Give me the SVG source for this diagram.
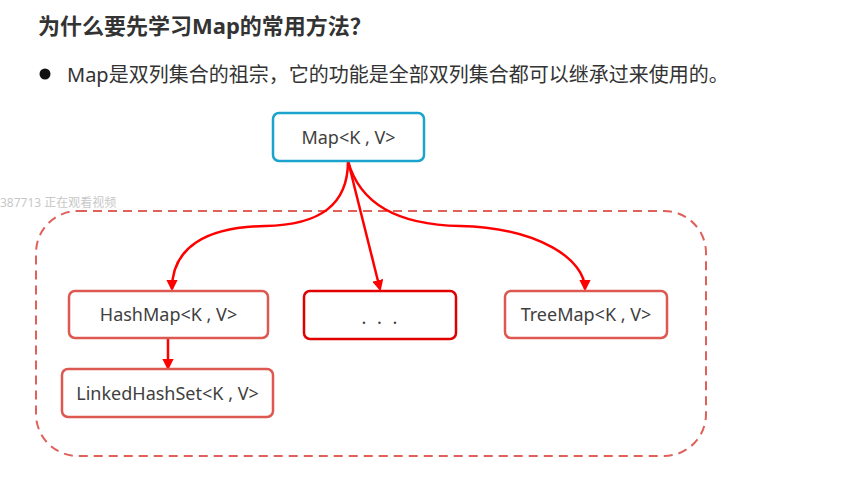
<svg xmlns="http://www.w3.org/2000/svg" width="861" height="479" viewBox="0 0 861 479">
<style>
.t{font-family:"Noto Sans","Noto Sans CJK SC",sans-serif;fill:#333}
.box{fill:#fff;stroke-width:2.5}
.red{stroke:#DD5850}
.lbl{font-family:"Noto Sans","Noto Sans CJK SC",sans-serif;font-size:18px;fill:#404040;text-anchor:middle;dominant-baseline:central}
.arr{fill:none;stroke:#FF0000;stroke-width:2.5;marker-end:url(#ah)}
</style>
<defs>
<marker id="ah" viewBox="0 0 10 10" refX="8" refY="5" markerWidth="4.5" markerHeight="4.5" orient="auto" markerUnits="strokeWidth">
<path d="M0,0 L10,5 L0,10 z" fill="#FF0000"/>
</marker>
</defs>
<rect width="861" height="479" fill="#fff"/>
<text class="t" x="38" y="34" font-size="22" font-weight="bold" fill="#333">为什么要先学习Map的常用方法？</text>
<circle cx="45" cy="74" r="5.5" fill="#111"/>
<text class="t" x="67" y="82" font-size="20" fill="#222">Map是双列集合的祖宗，它的功能是全部双列集合都可以继承过来使用的。</text>
<text x="0" y="207" font-family="Noto Sans, Noto Sans CJK SC, sans-serif" font-size="12" fill="#c8c8c8">387713 正在观看视频</text>
<rect x="36" y="211" width="670" height="245" rx="42" fill="none" stroke="#E0605A" stroke-width="2" stroke-dasharray="9 6"/>
<g id="connectors">
<path class="arr" d="M348,161 C348,205 320,225 265,226 C205,227 172,248 172,289"/>
<path class="arr" d="M348,161 L380,289"/>
<path class="arr" d="M348,161 C360,205 400,225 460,226 C540,228 585,260 585,289"/>
<path class="arr" d="M168,338 L168,368"/>
</g>
<g id="map">
<rect class="box" x="273" y="113" width="151" height="48" rx="6" stroke="#1AA3CC"/>
<text class="lbl" x="348.5" y="137">Map&lt;K , V&gt;</text>
</g>
<g id="hashmap">
<rect class="box red" x="69" y="291" width="199" height="47" rx="6"/>
<text class="lbl" x="168.5" y="314">HashMap&lt;K , V&gt;</text>
</g>
<g id="dots">
<rect class="box" x="304" y="291" width="152" height="48" rx="6" stroke="#E00000"/>
<text class="lbl" x="381" y="317" letter-spacing="3">. . .</text>
</g>
<g id="treemap">
<rect class="box red" x="505" y="291" width="162" height="47" rx="6"/>
<text class="lbl" x="586" y="314">TreeMap&lt;K , V&gt;</text>
</g>
<g id="linkedhashset">
<rect class="box red" x="62" y="369" width="211" height="48" rx="6"/>
<text class="lbl" x="167.5" y="393">LinkedHashSet&lt;K , V&gt;</text>
</g>
</svg>
